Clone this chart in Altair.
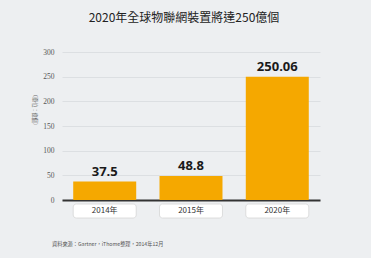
import altair as alt
import pandas as pd

years = ["2014年", "2015年", "2020年"]
values = [37.5, 48.8, 250.06]
value_labels = ["37.5", "48.8", "250.06"]
y_ticks = [0, 50, 100, 150, 200, 250, 300]

title_text = "2020年全球物聯網裝置將達250億個"
unit_text = "（單位：億個）"
source_text = "資料來源：Gartner，iThome整理，2014年12月"

df = pd.DataFrame({"year": years, "value": values, "label": value_labels})

CJK = "Noto Sans CJK TC"

x_enc = alt.X("year:N", sort=years,
              scale=alt.Scale(paddingInner=0.27, paddingOuter=0.13),
              axis=alt.Axis(labels=False, ticks=False, title=None, domain=True,
                            domainColor="#333333", domainWidth=2, grid=False))
y_enc = alt.Y("value:Q", scale=alt.Scale(domain=[0, 300], nice=False),
              axis=alt.Axis(values=y_ticks, tickCount=7, grid=True, gridColor="#dcdfe2",
                            gridWidth=1, domain=False, ticks=False, title=None,
                            labelOverlap=False,
                            labelFont="Liberation Serif", labelFontSize=7.5,
                            labelColor="#555555", labelPadding=8))

base = alt.Chart(df)

bars = base.mark_bar(color="#f5a800").encode(x=x_enc, y=y_enc)

vals = base.mark_text(baseline="bottom", dy=-3, fontSize=13, fontWeight="bold",
                      font="Open Sans", color="#1a1a1a").encode(
    x=x_enc, y=y_enc, text="label:N")

boxes = base.mark_rect(fill="white", stroke="#d6d6d6", strokeWidth=0.8,
                       cornerRadius=3).encode(
    x=x_enc, y=alt.value(152), y2=alt.value(166))

box_text = base.mark_text(fontSize=8, font=CJK, color="#333333", baseline="middle").encode(
    x=x_enc, y=alt.value(159), text="year:N")

unit = alt.Chart(pd.DataFrame({"t": [unit_text]})).mark_text(
    font=CJK, fontSize=5.2, color="#666666", angle=90,
    baseline="middle", align="center").encode(
    x=alt.value(-27), y=alt.value(58), text="t:N")

source = alt.Chart(pd.DataFrame({"t": [source_text]})).mark_text(
    font=CJK, fontSize=5.2, color="#555555", align="left", baseline="middle").encode(
    x=alt.value(-10), y=alt.value(192), text="t:N")

chart = alt.layer(bars, vals, boxes, box_text, unit, source).properties(
    width=258, height=148,
    title=alt.TitleParams(title_text, font=CJK, fontSize=12, fontWeight="normal",
                          color="#222222", anchor="middle", dx=-7, offset=18,
                          baseline="middle"),
    autosize=alt.AutoSizeParams(type="none"),
    padding={"left": 62, "top": 52, "right": 51, "bottom": 58},
).configure(background="#edeff1").configure_view(stroke=None)

chart.save("out.html", embed_options={"renderer": "svg", "actions": False})
